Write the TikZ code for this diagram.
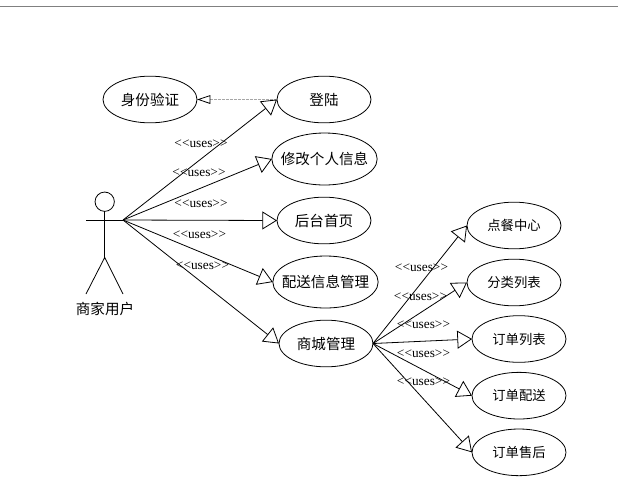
\documentclass[tikz,border=0pt]{standalone}
\usepackage{fontspec}
\setmainfont{Liberation Serif}
\newfontfamily\cjk{Noto Sans CJK SC}
\usetikzlibrary{arrows.meta,shapes.geometric,positioning}

\begin{document}
\begin{tikzpicture}[
  x=0.75pt, y=-0.75pt,                      % one unit = one pixel of the reference
  node distance = 7.5pt and 60pt,
  usecase/.style = {ellipse,
                    draw,
                    line width=0.6pt,
                    inner sep=0pt,
                    outer sep=0pt,
                    minimum width=70.5pt,
                    minimum height=35pt,
                    font=\cjk\fontsize{10.9}{13}\selectfont},
  widecase/.style = {usecase,
                     inner xsep=-4.8pt,     % long text, keep the ellipse narrow
                     minimum width=79pt,
                     minimum height=39pt},
  subcase/.style  = {usecase,
                     font=\cjk\fontsize{10}{12}\selectfont},
  uses/.style     = {inner sep=0pt,
                     font=\fontsize{10}{12}\selectfont},
  limb/.style     = {line width=0.6pt},
  arrow/.style    = {-{Triangle[open,length=11pt,width=13.5pt]}, line width=0.6pt},
  depends/.style  = {-{Triangle[open,length=10pt,width=6.5pt,color=black,line width=0.6pt]},
                     dash pattern=on 2pt off 1pt,
                     draw=black!35, line width=0.4pt}
]
\useasboundingbox (0,0) rectangle (618,494);

% rule along the top
\draw[black!50, line width=0.75pt] (0,6) -- (618,6);

% actor
\node[circle, draw, line width=0.6pt, inner sep=0pt, outer sep=0pt,
      minimum size=14.5pt] (head) at (104.7,201.7) {};
\coordinate (hand) at (123,220);
\coordinate (arm) at (86,220);
\coordinate (hip) at (104.7,257.5);
\coordinate (footl) at (86,294);
\coordinate (footr) at (123,294);
\node[inner sep=0pt, font=\cjk\fontsize{10.9}{13}\selectfont] (seller) at (105,309) {商家用户};
\draw[limb] (head.south) -- (hip);
\draw[limb] (arm) -- (hand);
\draw[limb] (footl) -- (hip) -- (footr);

% first level
\node[usecase] (auth) at (150,99.5) {身份验证};
\node[usecase, right=of auth] (login) {登陆};
\node[widecase] (profile) at (324.5,159) {修改个人信息};
\node[usecase] (home) at (324,220.5) {后台首页};
\node[widecase] (delivery) at (325.5,282) {配送信息管理};
\node[usecase] (mall) at (326,343.5) {商城管理};

% second level
\node[subcase] (order) at (514,225.5) {点餐中心};
\node[subcase] (sort) at (514,282.5) {分类列表};
\node[subcase] (list) at (519,339) {订单列表};
\node[subcase, below=of list] (ship) {订单配送};
\node[subcase, below=of ship] (after) {订单售后};

\draw[depends] (login) -- (auth);

\draw[arrow] (hand) -- (login.west);
\draw[arrow] (hand) -- (profile.west);
\draw[arrow] (hand) -- (home.west);
\draw[arrow] (hand) -- (delivery.west);
\draw[arrow] (hand) -- (mall.west);

\draw[arrow] (mall.east) -- (order.west);
\draw[arrow] (mall.east) -- (sort.west);
\draw[arrow] (mall.east) -- (list.west);
\draw[arrow] (mall.east) -- (ship.west);
\draw[arrow] (mall.east) -- (after.west);

% stereotype labels
\node[uses] (ulogin) at (201,144) {<{}<uses>{}>};
\node[uses] (uprofile) at (199,173) {<{}<uses>{}>};
\node[uses] (uhome) at (201,204) {<{}<uses>{}>};
\node[uses] (udelivery) at (199.5,235) {<{}<uses>{}>};
\node[uses] (umall) at (202.5,266) {<{}<uses>{}>};
\node[uses] (uorder) at (421.5,268) {<{}<uses>{}>};
\node[uses] (usort) at (420.5,297) {<{}<uses>{}>};
\node[uses] (ulist) at (423.5,325) {<{}<uses>{}>};
\node[uses] (uship) at (423.5,354) {<{}<uses>{}>};
\node[uses] (uafter) at (423.5,382) {<{}<uses>{}>};

\end{tikzpicture}
\end{document}
